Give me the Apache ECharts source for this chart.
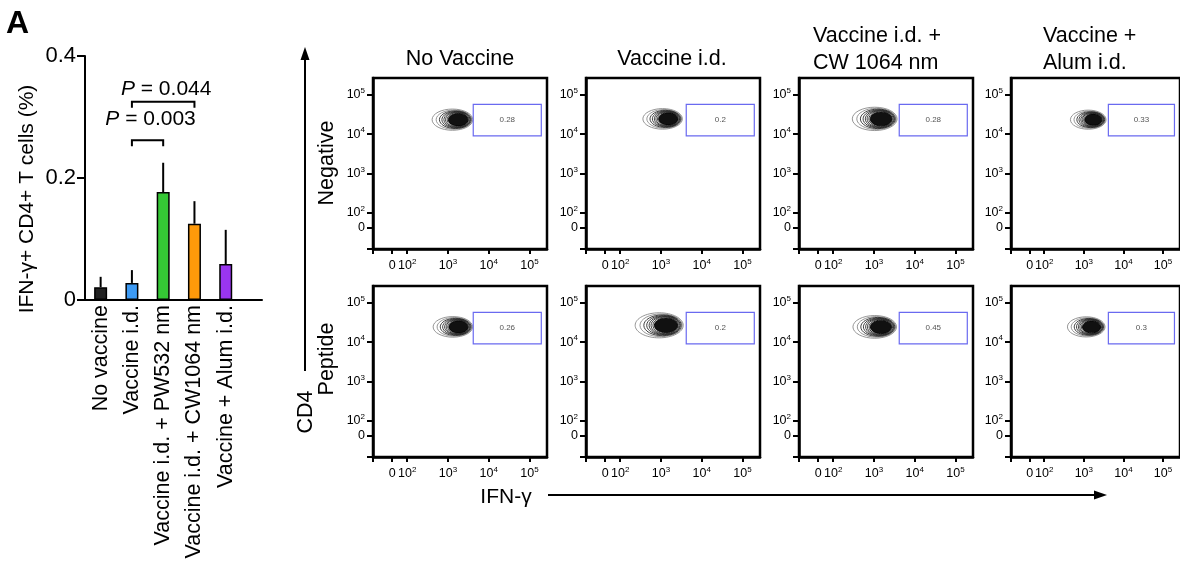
<!DOCTYPE html>
<html><head><meta charset="utf-8">
<script src="https://cdn.jsdelivr.net/npm/echarts@6/dist/echarts.min.js"></script>
<style>html,body{margin:0;padding:0;background:#fff}#c{width:1180px;height:563px}</style>
</head><body><div id="c"></div>
<script>
// ---------- Bar chart data ----------
const categories = ['No vaccine', 'Vaccine i.d.', 'Vaccine i.d. + PW532 nm', 'Vaccine i.d. + CW1064 nm', 'Vaccine + Alum i.d.'];
const barMeans = [0.021, 0.028, 0.177, 0.125, 0.059];
const barErrors = [0.017, 0.021, 0.048, 0.037, 0.056];
const barColors = ['#222222', '#3d9bf5', '#35c735', '#ff9a0a', '#9a35f0'];
const barTickValues = [0, 0.2, 0.4];
const barTickLabels = ['0', '0.2', '0.4'];
const barAxisTitle = 'IFN-\u03b3+ CD4+ T cells (%)';
const bracketFrom = [1, 1];
const bracketTo = [2, 3];
const bracketY = [0.262, 0.325];
const bracketLabelY = [0.297, 0.346];
const bracketP = ['0.003', '0.044'];

// ---------- Flow panel data ----------
const panelTitles = [['No Vaccine'], ['Vaccine i.d.'], ['Vaccine i.d. +', 'CW 1064 nm'], ['Vaccine +', 'Alum i.d.']];
const rowLabels = ['Negative', 'Peptide'];
const flowTickValues = [1.63, 2, 3, 4, 5];
const flowTickLabels = ['0', '10^2', '10^3', '10^4', '10^5'];
const gateText = [['0.28', '0.2', '0.28', '0.33'], ['0.26', '0.2', '0.45', '0.3']];
const gateX = [3.62, 5.29];
const gateY = [3.96, 4.76];
const clusterX = [[3.13, 3.06, 3.04, 3.13], [3.14, 2.98, 3.04, 3.08]];
const clusterY = [[4.37, 4.39, 4.39, 4.37], [4.39, 4.43, 4.39, 4.39]];
const clusterScale = [[1.0, 0.97, 1.1, 0.9], [0.97, 1.18, 1.07, 0.95]];
const ringHalfW = [0.5, 0.44, 0.39, 0.35, 0.32, 0.29, 0.26];
const ringHalfH = [0.27, 0.245, 0.225, 0.21, 0.2, 0.19, 0.18];
const ringShift = [-0.02, 0.02, 0.05, 0.07, 0.09, 0.1, 0.11];
const coreHalfW = 0.24, coreHalfH = 0.16, coreShift = 0.12;

// ---------- Layout ----------
const FONT = 'Liberation Sans, Arial, sans-serif';
const colLeft = [373, 586, 799, 1011];
const rowTop = [78, 286];
const PW = 174, PH = 171;
const FX = [1.16, 5.43], FY = [1.08, 5.43];

const grids = [{left: 85, top: 56, width: 177, height: 244}];
const xAxes = [{
  type: 'value', gridIndex: 0, min: 0, max: 5.66,
  axisLine: {show: true, onZero: false, lineStyle: {color: '#000', width: 2}},
  axisTick: {show: false}, splitLine: {show: false},
  axisLabel: {
    customValues: categories.map((c, i) => i + 0.5),
    formatter: v => categories[Math.round(v - 0.5)] || '',
    rotate: 90, margin: 5, fontSize: 21.5, color: '#000', fontFamily: FONT
  }
}];
const yAxes = [{
  type: 'value', gridIndex: 0, min: 0, max: 0.4, interval: 0.2,
  axisLine: {show: true, lineStyle: {color: '#000', width: 2}},
  axisTick: {show: true, inside: false, length: 8, lineStyle: {color: '#000', width: 2}},
  splitLine: {show: false},
  axisLabel: {fontSize: 22, color: '#000', margin: 9, fontFamily: FONT,
    formatter: v => barTickLabels[barTickValues.findIndex(t => Math.abs(t - v) < 1e-6)] || ''}
}];

const series = [];
series.push({
  type: 'bar', xAxisIndex: 0, yAxisIndex: 0, barWidth: 13,
  itemStyle: {borderColor: '#000', borderWidth: 1.5},
  data: categories.map((c, i) => ({value: [i + 0.5, barMeans[i]], itemStyle: {color: barColors[i]}})),
  z: 2
});
series.push({
  type: 'custom', xAxisIndex: 0, yAxisIndex: 0, z: 3,
  data: categories.map((c, i) => [i + 0.5, barMeans[i], barMeans[i] + barErrors[i]]),
  renderItem: (params, api) => {
    const a = api.coord([api.value(0), api.value(1)]);
    const b = api.coord([api.value(0), api.value(2)]);
    return {type: 'line', shape: {x1: a[0], y1: a[1], x2: b[0], y2: b[1]}, style: {stroke: '#000', lineWidth: 2}};
  }
});
series.push({
  type: 'custom', xAxisIndex: 0, yAxisIndex: 0, z: 3, clip: false,
  data: bracketFrom.map((f, i) => [f + 0.5, bracketTo[i] + 0.5, bracketY[i], bracketLabelY[i]]),
  renderItem: (params, api) => {
    const p1 = api.coord([api.value(0), api.value(2)]);
    const p2 = api.coord([api.value(1), api.value(2)]);
    const t = api.coord([(api.value(0) + api.value(1)) / 2, api.value(3)]);
    return {type: 'group', children: [
      {type: 'polyline', shape: {points: [[p1[0], p1[1] + 6], [p1[0], p1[1]], [p2[0], p2[1]], [p2[0], p2[1] + 6]]},
        style: {stroke: '#000', lineWidth: 2, fill: 'none'}},
      {type: 'text', x: t[0] + 3, y: t[1], style: {
        text: '{i|P} = ' + bracketP[params.dataIndex], font: '21px ' + FONT, fill: '#000',
        align: 'center', verticalAlign: 'middle',
        rich: {i: {fontStyle: 'italic', fontSize: 21, fontFamily: FONT}}
      }}
    ]};
  }
});

function flowLabel(v) {
  const i = flowTickValues.findIndex(t => Math.abs(t - v) < 1e-6);
  if (i < 0) return '';
  const s = flowTickLabels[i];
  if (s.indexOf('^') < 0) return '{b|' + s + '}';
  const parts = s.split('^');
  return '{b|' + parts[0] + '}{s|' + parts[1] + '}';
}
const flowRich = {
  b: {fontSize: 12.5, lineHeight: 16, color: '#000', fontFamily: FONT},
  s: {fontSize: 8, verticalAlign: 'top', color: '#000', fontFamily: FONT}
};

for (let r = 0; r < 2; r++) {
  for (let c = 0; c < 4; c++) {
    const gi = grids.length;
    grids.push({left: colLeft[c], top: rowTop[r], width: PW, height: PH, show: true,
      borderColor: '#000', borderWidth: 2.5, backgroundColor: 'transparent'});
    xAxes.push({
      type: 'value', gridIndex: gi, min: FX[0], max: FX[1],
      axisLine: {show: true, onZero: false, lineStyle: {color: '#000', width: 2.5}},
      axisTick: {show: true, inside: false, length: 5, customValues: [FX[0]].concat(flowTickValues), lineStyle: {color: '#000', width: 2}},
      splitLine: {show: false},
      axisLabel: {customValues: flowTickValues, formatter: flowLabel, rich: flowRich, margin: 9}
    });
    yAxes.push({
      type: 'value', gridIndex: gi, min: FY[0], max: FY[1],
      axisLine: {show: true, onZero: false, lineStyle: {color: '#000', width: 2.5}},
      axisTick: {show: true, inside: false, length: 6, customValues: [FY[0]].concat(flowTickValues), lineStyle: {color: '#000', width: 2}},
      splitLine: {show: false},
      axisLabel: {customValues: flowTickValues, formatter: flowLabel, rich: flowRich, margin: 8}
    });
    // contour rings
    const sc = clusterScale[r][c];
    const ringData = ringHalfW.map((w, k) => [clusterX[r][c] + ringShift[k] * sc, clusterY[r][c], w * sc, ringHalfH[k] * sc, k]);
    ringData.push([clusterX[r][c] + coreShift * sc, clusterY[r][c], coreHalfW * sc, coreHalfH * sc, -1]);
    series.push({
      type: 'custom', xAxisIndex: gi, yAxisIndex: gi, z: 3,
      data: ringData,
      renderItem: (params, api) => {
        const ctr = api.coord([api.value(0), api.value(1)]);
        const s = api.size([api.value(2), api.value(3)]);
        const lvl = api.value(4);
        return {type: 'ellipse', shape: {cx: ctr[0], cy: ctr[1], rx: s[0], ry: s[1]},
          style: {fill: lvl < 0 ? '#111' : 'none', stroke: lvl < 0 ? '#000' : (lvl < 2 ? '#8a8a8a' : '#2a2a2a'), lineWidth: 0.9}};
      }
    });
    // gate
    const label = gateText[r][c];
    series.push({
      type: 'custom', xAxisIndex: gi, yAxisIndex: gi, z: 4,
      data: [[gateX[0], gateY[0], gateX[1], gateY[1]]],
      renderItem: (params, api) => {
        const p1 = api.coord([api.value(0), api.value(3)]);
        const p2 = api.coord([api.value(2), api.value(1)]);
        return {type: 'group', children: [
          {type: 'rect', shape: {x: p1[0], y: p1[1], width: p2[0] - p1[0], height: p2[1] - p1[1]},
            style: {fill: 'none', stroke: '#6a6af0', lineWidth: 1.2}},
          {type: 'text', x: (p1[0] + p2[0]) / 2, y: (p1[1] + p2[1]) / 2,
            style: {text: label, font: '8px ' + FONT, fill: '#555', align: 'center', verticalAlign: 'middle'}}
        ]};
      }
    });
  }
}

// ---------- annotations ----------
const graphic = [];
graphic.push({type: 'text', x: 6, y: 8, style: {text: 'A', font: 'bold 32px ' + FONT, fill: '#000'}});
graphic.push({type: 'text', x: 27, y: 199, rotation: Math.PI / 2,
  style: {text: barAxisTitle, font: '21px ' + FONT, fill: '#000', textAlign: 'center', textVerticalAlign: 'middle'}});
const titleX = [460, 672, 813, 1043];
panelTitles.forEach((lines, c) => {
  if (lines.length === 1) {
    graphic.push({type: 'text', x: titleX[c], y: 59, style: {text: lines[0], font: '21.5px ' + FONT, fill: '#000', textAlign: 'center', textVerticalAlign: 'middle'}});
  } else {
    lines.forEach((t, k) => graphic.push({type: 'text', x: titleX[c], y: 36 + k * 27,
      style: {text: t, font: '21.5px ' + FONT, fill: '#000', textAlign: 'left', textVerticalAlign: 'middle'}}));
  }
});
const rowLabelY = [163, 359];
rowLabels.forEach((t, r) => graphic.push({type: 'text', x: 327, y: rowLabelY[r], rotation: Math.PI / 2,
  style: {text: t, font: '21.5px ' + FONT, fill: '#000', textAlign: 'center', textVerticalAlign: 'middle'}}));
graphic.push({type: 'text', x: 306, y: 412, rotation: Math.PI / 2,
  style: {text: 'CD4', font: '21.5px ' + FONT, fill: '#000', textAlign: 'center', textVerticalAlign: 'middle'}});
graphic.push({type: 'text', x: 506, y: 497,
  style: {text: 'IFN-\u03b3', font: '21px ' + FONT, fill: '#000', textAlign: 'center', textVerticalAlign: 'middle'}});
graphic.push({type: 'line', shape: {x1: 305, y1: 371, x2: 305, y2: 58}, style: {stroke: '#000', lineWidth: 2}});
graphic.push({type: 'polygon', shape: {points: [[305, 47], [300.5, 60], [309.5, 60]]}, style: {fill: '#000'}});
graphic.push({type: 'line', shape: {x1: 548, y1: 495, x2: 1096, y2: 495}, style: {stroke: '#000', lineWidth: 2}});
graphic.push({type: 'polygon', shape: {points: [[1107, 495], [1094, 490.5], [1094, 499.5]]}, style: {fill: '#000'}});

const chart = echarts.init(document.getElementById('c'), null, {renderer: 'canvas'});
chart.setOption({
  animation: false,
  backgroundColor: '#fff',
  textStyle: {fontFamily: FONT},
  grid: grids, xAxis: xAxes, yAxis: yAxes, series: series, graphic: graphic
});
</script></body></html>
